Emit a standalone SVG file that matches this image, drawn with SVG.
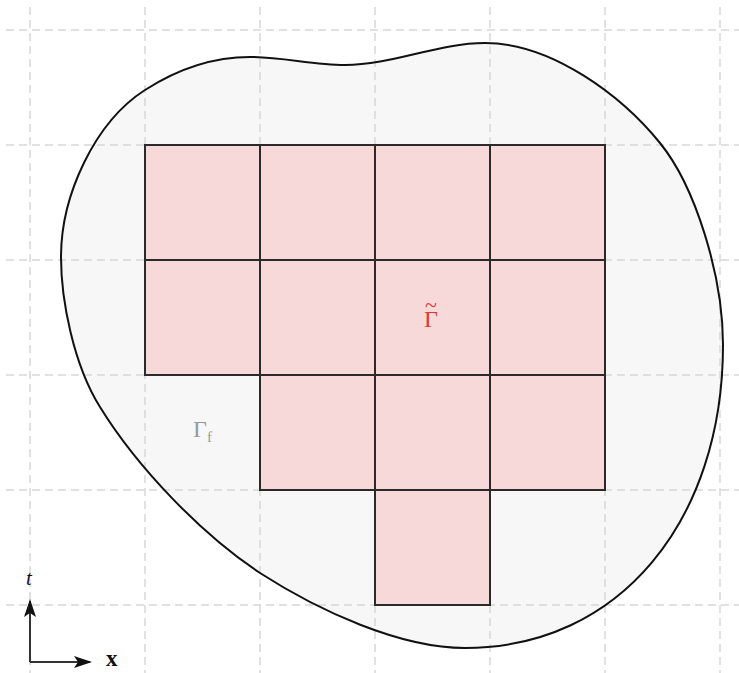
<svg xmlns="http://www.w3.org/2000/svg" width="739" height="673" viewBox="0 0 739 673">
<defs>
<style>
.grid{stroke:#d8d8d8;stroke-width:1.5;stroke-dasharray:8 5;fill:none}
.cell{fill:#f8d9d9;stroke:#2a2a2a;stroke-width:2}
.ax{stroke:#333;stroke-width:2;fill:none}
.serif{font-family:"Liberation Serif","DejaVu Serif",serif}
</style>
<marker id="ah" markerWidth="18" markerHeight="12" refX="16" refY="6" orient="auto" markerUnits="userSpaceOnUse">
<path d="M0,0 L18,6 L0,12 L4,6 Z" fill="#111"/>
</marker>
</defs>
<rect width="739" height="673" fill="#ffffff"/>
<g id="domain">
<path id="blob-fill" d="M250,57 C282,57 313,65 345,65 C392,65 438,43 485,43 C552,43 622,96 660,143 C695,186 723,275 723,345 C723,520 620,648 465,648 C400,648 319,611 260,573 C201,534 137,467 100,407 C73.5,364.5 61,300 61,257 C61,195 95,122 145,90 C178.6,68.4 215,57 250,57 Z" fill="#f7f7f7"/>
</g>
<g id="grid">
<line class="grid" x1="30" y1="7" x2="30" y2="673"/>
<line class="grid" x1="145" y1="7" x2="145" y2="673"/>
<line class="grid" x1="260" y1="7" x2="260" y2="673"/>
<line class="grid" x1="375" y1="7" x2="375" y2="673"/>
<line class="grid" x1="490" y1="7" x2="490" y2="673"/>
<line class="grid" x1="605" y1="7" x2="605" y2="673"/>
<line class="grid" x1="720" y1="7" x2="720" y2="673"/>
<line class="grid" x1="6" y1="30" x2="739" y2="30"/>
<line class="grid" x1="6" y1="145" x2="739" y2="145"/>
<line class="grid" x1="6" y1="260" x2="739" y2="260"/>
<line class="grid" x1="6" y1="375" x2="739" y2="375"/>
<line class="grid" x1="6" y1="490" x2="739" y2="490"/>
<line class="grid" x1="6" y1="605" x2="739" y2="605"/>
</g>
<g id="boundary">
<path d="M250,57 C282,57 313,65 345,65 C392,65 438,43 485,43 C552,43 622,96 660,143 C695,186 723,275 723,345 C723,520 620,648 465,648 C400,648 319,611 260,573 C201,534 137,467 100,407 C73.5,364.5 61,300 61,257 C61,195 95,122 145,90 C178.6,68.4 215,57 250,57 Z" fill="none" stroke="#111" stroke-width="2"/>
</g>
<g id="c11"><rect class="cell" x="145" y="145" width="115" height="115"/></g>
<g id="c12"><rect class="cell" x="260" y="145" width="115" height="115"/></g>
<g id="c13"><rect class="cell" x="375" y="145" width="115" height="115"/></g>
<g id="c14"><rect class="cell" x="490" y="145" width="115" height="115"/></g>
<g id="c21"><rect class="cell" x="145" y="260" width="115" height="115"/></g>
<g id="c22"><rect class="cell" x="260" y="260" width="115" height="115"/></g>
<g id="c23"><rect class="cell" x="375" y="260" width="115" height="115"/></g>
<g id="c24"><rect class="cell" x="490" y="260" width="115" height="115"/></g>
<g id="c32"><rect class="cell" x="260" y="375" width="115" height="115"/></g>
<g id="c33"><rect class="cell" x="375" y="375" width="115" height="115"/></g>
<g id="c34"><rect class="cell" x="490" y="375" width="115" height="115"/></g>
<g id="c43"><rect class="cell" x="375" y="490" width="115" height="115"/></g>
<g id="labels">
<text class="serif" x="424" y="327" font-size="24" fill="#e0393b">Γ<tspan x="425" y="312" font-size="22">~</tspan></text>
<text class="serif" x="193" y="437" font-size="24" fill="#9a9a9a">Γ<tspan font-size="15" dy="5">f</tspan></text>
</g>
<g id="axes">
<line class="ax" x1="30" y1="662" x2="30" y2="601" marker-end="url(#ah)"/>
<line class="ax" x1="30" y1="662" x2="90" y2="662" marker-end="url(#ah)"/>
<text class="serif" x="26" y="585" font-size="21" font-style="italic" fill="#111">t</text>
<text class="serif" x="106" y="666" font-size="23" font-weight="bold" fill="#111">x</text>
</g>
</svg>
